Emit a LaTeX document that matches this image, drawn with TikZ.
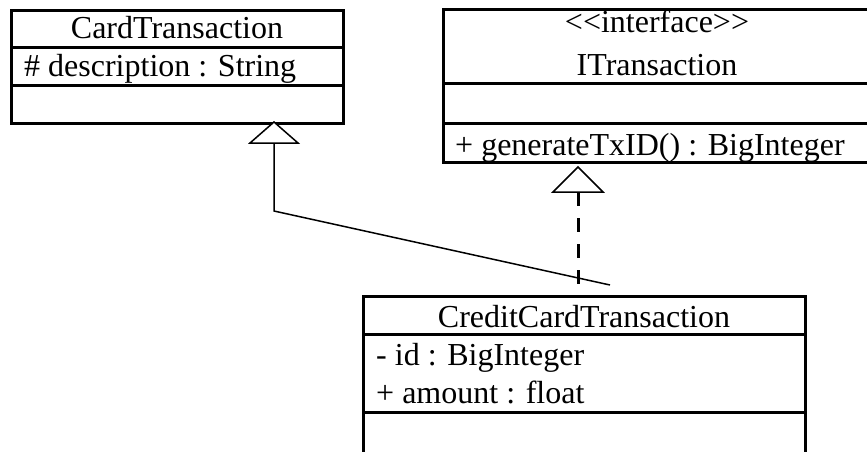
\documentclass[tikz,border=0pt]{standalone}
\usepackage{fontspec}
\newfontfamily\umlfamily{Liberation Serif}
\newcommand\umlfont{\umlfamily\fontsize{32pt}{38pt}\selectfont}
\begin{document}
\begin{tikzpicture}[x=1pt, y=-1pt,
  classbox/.style={draw, rectangle, line width=3pt, anchor=north west,
                   inner sep=0pt, outer sep=0pt},
  compsep/.style={line width=3pt},
  title/.style={anchor=base, inner sep=0pt, font=\umlfont},
  member/.style={anchor=base west, inner sep=0pt, font=\umlfont},
  thinline/.style={line width=1.5pt},
  realize/.style={line width=3pt, dash pattern=on 14pt off 12pt},
  hollow/.style={line width=1.5pt, fill=white, line join=miter}]
\useasboundingbox (0,0) rectangle (867,451);
\clip (0,0) rectangle (867,451);

% CardTransaction
\node[classbox, minimum width=332pt, minimum height=113pt] (ct) at (11,10) {};
\draw[compsep] (ct.west |- 0,47) -- (ct.east |- 0,47);
\draw[compsep] (ct.west |- 0,85) -- (ct.east |- 0,85);
\node[title] (ctname) at (177,38) {CardTransaction};
\node[member] (ctdesc) at (24,76) {\# description : String};

% ITransaction
\node[classbox, minimum width=428pt, minimum height=152.5pt] (it) at (443,9.5) {};
\draw[compsep] (it.west |- 0,83) -- (it.east |- 0,83);
\draw[compsep] (it.west |- 0,123) -- (it.east |- 0,123);
\node[title] (itstereo) at (657,32) {<<interface>>};
\node[title] (itname) at (657,75) {ITransaction};
\node[member] (itop) at (455,155) {+ generateTxID() : BigInteger};

% CreditCardTransaction
\node[classbox, minimum width=442pt, minimum height=200pt] (cc) at (363,296) {};
\draw[compsep] (cc.west |- 0,334) -- (cc.east |- 0,334);
\draw[compsep] (cc.west |- 0,412) -- (cc.east |- 0,412);
\node[title] (ccname) at (584,327) {CreditCardTransaction};
\node[member] (ccid) at (376,365) {- id : BigInteger};
\node[member] (ccamt) at (376,403) {+ amount : float};

% generalization towards CardTransaction
\coordinate (genTip) at (274,122);
\coordinate (genBase) at (274,143);
\coordinate (genKnee) at (274,211);
\coordinate (genEnd) at (610,285);
\draw[thinline] (genBase) -- (genKnee) -- (genEnd);
\draw[hollow] (genTip) -- ++(-24,21) -- ++(48,0) -- cycle;

% realization towards ITransaction
\coordinate (realTip) at (578,167);
\coordinate (realBase) at (578,192);
\draw[realize] (realBase) -- (cc.north -| realBase);
\draw[hollow] (realTip) -- ++(-25,25) -- ++(50,0) -- cycle;
\end{tikzpicture}
\end{document}
